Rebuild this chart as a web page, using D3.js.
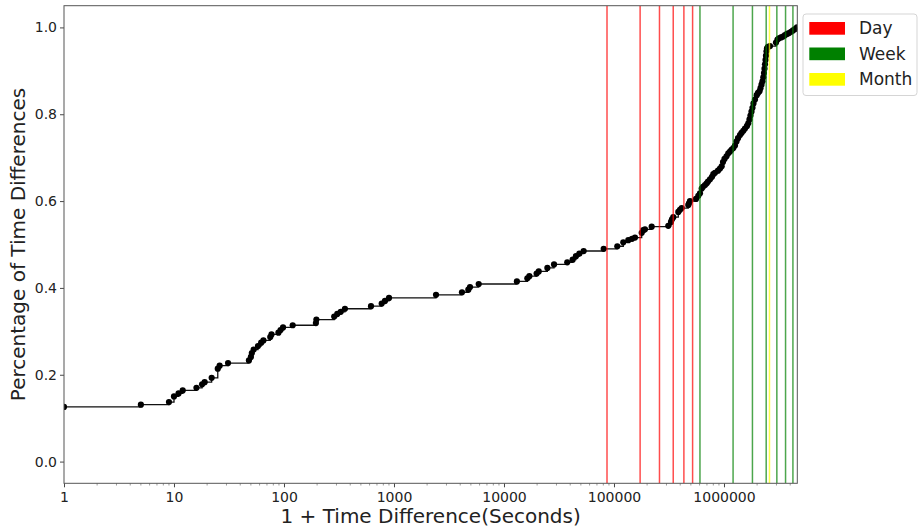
<!DOCTYPE html>
<html>
<head>
<meta charset="utf-8">
<script src="https://cdn.jsdelivr.net/npm/d3@7"></script>
<style>
  html, body { margin: 0; padding: 0; background: #fff; }
  svg { display: block; }
  text { font-family: "DejaVu Sans", sans-serif; fill: #222; }
</style>
</head>
<body>
<svg id="chart" width="918" height="529"></svg>
<script>
// 1 + time difference (seconds)
const timeDiffs = [1, 5, 9, 10, 11, 12, 16, 18, 19, 22, 25, 26, 31, 48, 50, 51, 53, 58, 62, 65,
  75, 77, 89, 93, 98, 120, 195, 197, 286, 305, 328, 358, 618, 773, 828, 901, 2410, 4150, 4740, 4910,
  5890, 13100, 16300, 17000, 19800, 20700, 24800, 28500, 37600, 42100, 45100, 48400, 53000, 80600, 107200, 121500, 134900, 145800, 155200, 178600,
  184700, 191300, 220100, 311700, 329800, 336800, 346000, 384200, 398100, 412600, 473700, 480700, 490900, 556600, 584000, 605100, 627100, 644400, 672000, 696300,
  715400, 746000, 778000, 799400, 828400, 882000, 919700, 953000, 979300, 1010500, 1054000, 1094000, 1134000, 1170000, 1215000, 1259000, 1299000, 1341000, 1398000, 1443000,
  1498000, 1552000, 1619000, 1663000, 1705000, 1741000, 1778000, 1816000, 1854000, 1913000, 1983000, 2038000, 2103000, 2147000, 2193000, 2239000, 2277000, 2310000, 2335000, 2359000,
  2384000, 2409000, 2434000, 2460000, 2512000, 2619000, 2970000, 3065000, 3162000, 3298000, 3439000, 3585000, 3738000, 3898000, 4066000, 4240000, 4420000, 4609000];
// cumulative fraction
const cdfValues = [0.126, 0.131, 0.137, 0.150, 0.157, 0.164, 0.170, 0.178, 0.183, 0.193, 0.214, 0.221, 0.227, 0.233, 0.241, 0.250, 0.258, 0.266, 0.274, 0.279,
  0.287, 0.293, 0.297, 0.303, 0.309, 0.314, 0.319, 0.327, 0.334, 0.340, 0.345, 0.352, 0.358, 0.364, 0.370, 0.377, 0.384, 0.390, 0.396, 0.402,
  0.409, 0.415, 0.422, 0.427, 0.433, 0.438, 0.446, 0.454, 0.459, 0.465, 0.473, 0.479, 0.485, 0.490, 0.496, 0.505, 0.510, 0.513, 0.516, 0.527,
  0.533, 0.535, 0.541, 0.543, 0.552, 0.558, 0.563, 0.575, 0.580, 0.584, 0.591, 0.595, 0.600, 0.605, 0.612, 0.618, 0.629, 0.633, 0.637, 0.641,
  0.645, 0.650, 0.656, 0.662, 0.665, 0.670, 0.675, 0.680, 0.690, 0.697, 0.703, 0.710, 0.714, 0.718, 0.722, 0.728, 0.737, 0.745, 0.752, 0.757,
  0.762, 0.767, 0.773, 0.779, 0.788, 0.797, 0.806, 0.815, 0.825, 0.834, 0.844, 0.849, 0.853, 0.860, 0.868, 0.876, 0.885, 0.895, 0.905, 0.915,
  0.925, 0.935, 0.945, 0.952, 0.955, 0.957, 0.965, 0.972, 0.975, 0.977, 0.979, 0.982, 0.985, 0.987, 0.990, 0.993, 0.996, 1.0];

const dayLines = [86400, 172800, 259200, 345600, 432000, 518400];
const weekLines = [604800, 1209600, 1814400, 2419200, 3024000, 3628800, 4233600];
const monthLines = [2592000];

const legendLabels = ["Day", "Week", "Month"];
const legendColors = ["#ff0000", "#008000", "#ffff00"];

const xTickValues = [1, 10, 100, 1000, 10000, 100000, 1000000];
const yTickValues = [0.0, 0.2, 0.4, 0.6, 0.8, 1.0];

const xDomain = [1, 4640000];
const yDomain = [-0.05, 1.05];

const xLabel = "1 + Time Difference(Seconds)";
const yLabel = "Percentage of Time Differences";

// ---- layout
const svg = d3.select("#chart");
const pL = 64, pR = 797.3, pT = 5.7, pB = 483.3;

const x = d3.scaleLog().domain(xDomain).range([pL, pR]);
const y = d3.scaleLinear().domain(yDomain).range([pB, pT]);

svg.append("defs").append("clipPath").attr("id", "clip")
  .append("rect").attr("x", pL).attr("y", pT).attr("width", pR - pL).attr("height", pB - pT);

const plot = svg.append("g").attr("clip-path", "url(#clip)");

const pts = timeDiffs.map((d, i) => [d, cdfValues[i]]);

const line = d3.line().x(d => x(d[0])).y(d => y(d[1])).curve(d3.curveStepAfter);
plot.append("path").datum(pts)
  .attr("d", line)
  .attr("fill", "none")
  .attr("stroke", "#111")
  .attr("stroke-width", 1.3);

plot.selectAll("circle.pt").data(pts).enter().append("circle")
  .attr("class", "pt")
  .attr("cx", d => x(d[0]))
  .attr("cy", d => y(d[1]))
  .attr("r", 3.1)
  .attr("fill", "#000");

function vlines(vals, color) {
  plot.selectAll(null).data(vals).enter().append("line")
    .attr("x1", d => x(d)).attr("x2", d => x(d))
    .attr("y1", pT).attr("y2", pB)
    .attr("stroke", color)
    .attr("stroke-opacity", 0.7)
    .attr("stroke-width", 1.5);
}
vlines(dayLines, legendColors[0]);
vlines(weekLines, legendColors[1]);
vlines(monthLines, legendColors[2]);

// ---- axes
const xAxis = d3.axisBottom(x)
  .tickValues(xTickValues)
  .tickFormat(d3.format("d"))
  .tickSize(4)
  .tickPadding(4);
const gx = svg.append("g").attr("transform", `translate(0,${pB})`).call(xAxis);
gx.select(".domain").remove();
gx.selectAll(".tick line").attr("stroke", "#333").attr("stroke-width", 0.9);
gx.selectAll(".tick text").attr("font-size", 14).attr("fill", "#222").attr("dy", "0.75em");

// minor ticks
const minorTicks = x.ticks().filter(t => !xTickValues.includes(t) && t > xDomain[0] && t < xDomain[1]);
svg.append("g").selectAll("line").data(minorTicks).enter().append("line")
  .attr("x1", d => x(d)).attr("x2", d => x(d))
  .attr("y1", pB).attr("y2", pB + 2.2)
  .attr("stroke", "#555").attr("stroke-width", 0.6);

const yAxis = d3.axisLeft(y)
  .tickValues(yTickValues)
  .tickFormat(d3.format(".1f"))
  .tickSize(4)
  .tickPadding(3);
const gy = svg.append("g").attr("transform", `translate(${pL},0)`).call(yAxis);
gy.select(".domain").remove();
gy.selectAll(".tick line").attr("stroke", "#333").attr("stroke-width", 0.9);
gy.selectAll(".tick text").attr("font-size", 14).attr("fill", "#222");

// frame
svg.append("rect")
  .attr("x", pL).attr("y", pT)
  .attr("width", pR - pL).attr("height", pB - pT)
  .attr("fill", "none").attr("stroke", "#555").attr("stroke-width", 1);

// labels
svg.append("text")
  .attr("x", (pL + pR) / 2).attr("y", 523)
  .attr("text-anchor", "middle")
  .attr("font-size", 20)
  .text(xLabel);

svg.append("text")
  .attr("transform", `translate(25,${(pT + pB) / 2}) rotate(-90)`)
  .attr("text-anchor", "middle")
  .attr("font-size", 20)
  .text(yLabel);

// legend
const lg = svg.append("g");
lg.append("rect")
  .attr("x", 803).attr("y", 14).attr("width", 114).attr("height", 81.5)
  .attr("rx", 3).attr("fill", "#fff").attr("fill-opacity", 0.8)
  .attr("stroke", "#d5d5d5").attr("stroke-width", 1);
legendLabels.forEach((lab, i) => {
  const cy = 28.3 + i * 25.5;
  lg.append("rect")
    .attr("x", 809.3).attr("y", cy - 6.3)
    .attr("width", 35.7).attr("height", 12.7)
    .attr("fill", legendColors[i]);
  lg.append("text")
    .attr("x", 859).attr("y", cy)
    .attr("dy", "0.35em")
    .attr("font-size", 17)
    .text(lab);
});
</script>
</body>
</html>
